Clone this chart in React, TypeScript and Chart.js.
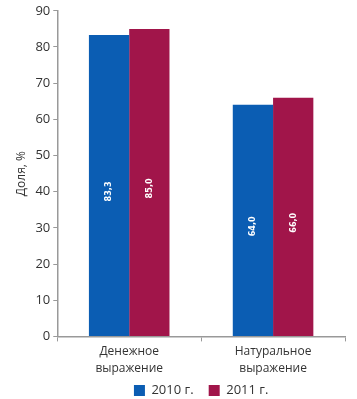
import React, { useEffect, useRef } from "react";
import { Chart, registerables } from "chart.js";

Chart.register(...registerables);

const categories: string[][] = [["Денежное", "выражение"], ["Натуральное", "выражение"]];
const series2010: number[] = [83.3, 64.0];
const series2011: number[] = [85.0, 66.0];
const seriesLabels: string[] = ["2010 г.", "2011 г."];
const yTitle = "Доля, %";

const BLUE = "#0b5db3";
const RED = "#a1154a";

const valueLabelPlugin = {
  id: "valueLabels",
  afterDatasetsDraw(chart: any) {
    const ctx = chart.ctx;
    chart.data.datasets.forEach((ds: any, i: number) => {
      const meta = chart.getDatasetMeta(i);
      meta.data.forEach((bar: any, j: number) => {
        const v = ds.data[j] as number;
        const txt = v.toFixed(1).replace(".", ",");
        const cy = (bar.y + bar.base) / 2 + 6;
        ctx.save();
        ctx.translate(bar.x, cy);
        ctx.rotate(-Math.PI / 2);
        ctx.fillStyle = "#ffffff";
        ctx.font = "bold 9px 'DejaVu Sans Condensed', 'DejaVu Sans', sans-serif";
        ctx.textAlign = "center";
        ctx.textBaseline = "middle";
        ctx.fillText(txt, 0, 0);
        ctx.restore();
      });
    });
  },
};

export default function App() {
  const ref = useRef<HTMLCanvasElement | null>(null);
  useEffect(() => {
    document.body.style.margin = "0";
    const chart = new Chart(ref.current as HTMLCanvasElement, {
      type: "bar",
      data: {
        labels: categories,
        datasets: [
          { label: seriesLabels[0] + "   ", data: series2010, backgroundColor: BLUE, barPercentage: 1, categoryPercentage: 0.56 },
          { label: seriesLabels[1], data: series2011, backgroundColor: RED, barPercentage: 1, categoryPercentage: 0.56 },
        ],
      },
      options: {
        animation: false,
        responsive: false,
        maintainAspectRatio: false,
        layout: { padding: { left: 10, right: 12, top: 4, bottom: -8 } },
        plugins: {
          tooltip: { enabled: false },
          legend: {
            position: "bottom",
            fullSize: false,
            labels: {
              boxWidth: 11,
              boxHeight: 11,
              color: "#333",
              padding: 5,
              font: { family: "'Open Sans', sans-serif", size: 13 },
            },
          },
        },
        scales: {
          x: {
            grid: { display: true, drawOnChartArea: false, color: "#999", tickLength: 5 },
            border: { color: "#999", width: 1.5 },
            ticks: { color: "#333", font: { family: "'Open Sans', sans-serif", size: 12, lineHeight: 1.4 }, padding: 2 },
          },
          y: {
            min: 0,
            max: 90,
            ticks: { stepSize: 10, color: "#333", font: { family: "'Open Sans', sans-serif", size: 13 }, padding: 3 },
            grid: { display: true, drawOnChartArea: false, color: "#999", tickLength: 4 },
            border: { color: "#999", width: 1.5 },
            title: { display: true, text: yTitle, color: "#333", font: { family: "'Open Sans', sans-serif", size: 12 }, padding: 4 },
          },
        },
      },
      plugins: [valueLabelPlugin],
    });
    return () => chart.destroy();
  }, []);
  return (
    <div style={{ position: "fixed", left: 0, top: 0, width: 357, height: 399, background: "#fff" }}>
      <canvas ref={ref} width={357} height={399} />
    </div>
  );
}
